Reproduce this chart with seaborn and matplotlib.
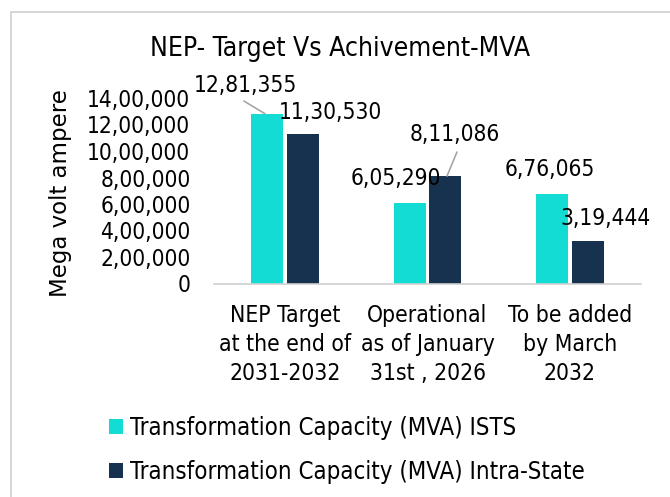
import matplotlib.pyplot as plt
import pandas as pd
import seaborn as sns
from matplotlib.patches import Rectangle
from matplotlib.ticker import FuncFormatter

categories = [
    "NEP Target\nat the end of\n2031-2032",
    "Operational\nas of January\n31st , 2026",
    "To be added\nby March\n2032",
]
series = [
    "Transformation Capacity (MVA) ISTS",
    "Transformation Capacity (MVA) Intra-State",
]
ists_values = [1281355, 605290, 676065]
intra_values = [1130530, 811086, 319444]
label_text = ["12,81,355", "6,05,290", "6,76,065", "11,30,530", "8,11,086", "3,19,444"]
colors = ["#12DCD4", "#17324F"]


def indian_format(v, pos=None):
    v = int(round(v))
    if v == 0:
        return "0"
    s = str(v)
    last3 = s[-3:]
    rest = s[:-3]
    parts = []
    while len(rest) > 2:
        parts.insert(0, rest[-2:])
        rest = rest[:-2]
    if rest:
        parts.insert(0, rest)
    return ",".join(parts + [last3])


df = pd.DataFrame({
    "category": categories * 2,
    "series": [series[0]] * 3 + [series[1]] * 3,
    "value": ists_values + intra_values,
})

sns.set_style("white")
plt.rcParams["font.family"] = ["DejaVu Sans"]
plt.rcParams["font.stretch"] = "condensed"
plt.rcParams["text.color"] = "black"
plt.rcParams["xtick.color"] = "black"
plt.rcParams["ytick.color"] = "black"

fig = plt.figure(figsize=(6.70, 4.97), dpi=100)
fig.patches.append(Rectangle((11 / 670, -0.1), 1.2, 1 - 12 / 497 + 0.1,
                             transform=fig.transFigure, fill=False,
                             edgecolor="#d0d0d0", linewidth=1.2))
ax = fig.add_axes([214 / 670, 1 - 283.5 / 497, 427 / 670, 185.5 / 497])

sns.barplot(data=df, x="category", y="value", hue="series", palette=colors,
            width=0.5, gap=0.1, saturation=1, ax=ax, linewidth=0)

ax.set_xlim(-0.5, 2.5)
ax.set_ylim(0, 1400000)
ax.set_yticks(range(0, 1400001, 200000))
ax.yaxis.set_major_formatter(FuncFormatter(indian_format))
ax.tick_params(axis="y", labelsize=16.3, length=0, pad=17)
ax.tick_params(axis="x", labelsize=16.4, length=0, pad=15)
for t in ax.get_xticklabels():
    t.set_linespacing(1.33)
ax.set_xlabel("")
ax.set_ylabel("")
sns.despine(ax=ax, left=True)
ax.spines["bottom"].set_color("#d0d0d0")
ax.spines["bottom"].set_linewidth(1.2)

# data labels, placed where the picture shows them
lab_pos = [(-0.28, 1498000), (0.78, 796000), (1.86, 864000),
           (0.315, 1294000), (1.19, 1121000), (2.254, 494000)]
for txt, (lx, ly) in zip(label_text, lab_pos):
    ax.text(lx, ly, txt, ha="center", va="center", fontsize=16.3, clip_on=False)

# leader lines
ax.plot([-0.29, -0.142], [1377000, ists_values[0]], color="#a6a6a6", lw=1.2, clip_on=False)
ax.plot([1.207, 1.137], [992000, intra_values[1]], color="#a6a6a6", lw=1.2, clip_on=False)

fig.text(340.5 / 670, 1 - 49 / 497, "NEP- Target Vs Achivement-MVA", ha="center",
         va="center", fontsize=19)
fig.text(61 / 670, 1 - 193 / 497, "Mega volt ampere", rotation=90, ha="center",
         va="center", fontsize=16.5, fontstretch="normal")

sns.move_legend(ax, "upper left", bbox_to_anchor=(109 / 670, 1 - 416 / 497),
                bbox_transform=fig.transFigure, frameon=False, title=None,
                fontsize=17.2, handlelength=0.6, handleheight=0.6,
                handletextpad=0.3, labelspacing=0.82, borderaxespad=0,
                borderpad=0)

fig.savefig("out.png", dpi=100)
